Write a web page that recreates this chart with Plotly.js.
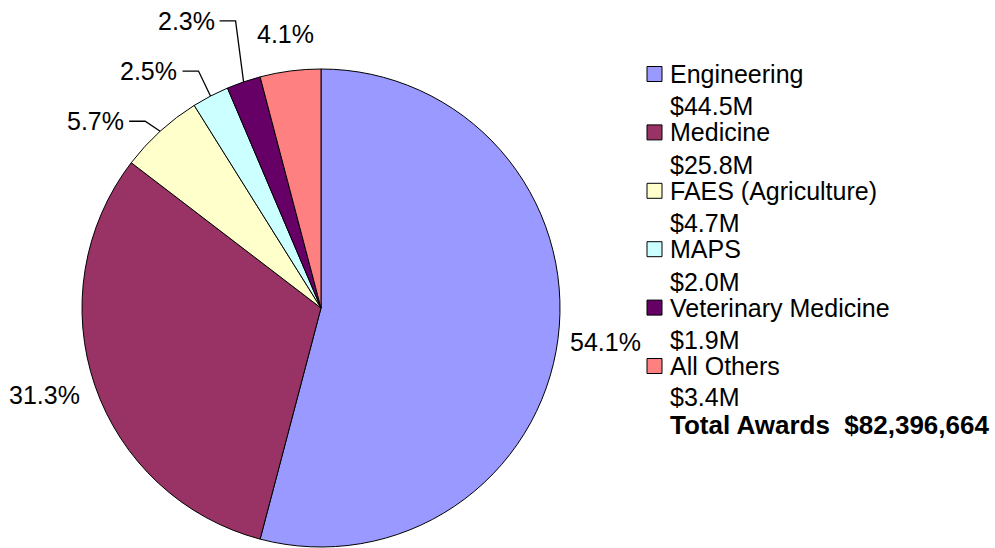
<!DOCTYPE html>
<html>
<head>
<meta charset="utf-8">
<script src="https://cdn.plot.ly/plotly-3.0.1.min.js"></script>
<style>html,body{margin:0;padding:0;background:#fff;}#chart{width:995px;height:548px;}</style>
</head>
<body>
<div id="chart"></div>
<script>
const categories = ["Engineering", "Medicine", "FAES (Agriculture)", "MAPS", "Veterinary Medicine", "All Others"];
const shares = [54.1, 31.3, 5.7, 2.5, 2.3, 4.1];
const amounts = ["$44.5M", "$25.8M", "$4.7M", "$2.0M", "$1.9M", "$3.4M"];
const colors = ["#9999FF", "#993366", "#FFFFCC", "#CCFFFF", "#660066", "#FF8080"];
const totalLabel = "Total Awards  $82,396,664";

const W = 995, H = 548;
const cx = 321, cy = 308, R = 239;
const font = "Arial, 'Liberation Sans', sans-serif";
const FS = 25;

const trace = {
  type: "pie",
  labels: categories,
  values: shares,
  sort: false,
  direction: "clockwise",
  rotation: 0,
  marker: {colors: colors, line: {color: "#000", width: 1}},
  textinfo: "none",
  showlegend: false,
  hoverinfo: "label+percent",
  domain: {x: [(cx - R) / W, (cx + R) / W], y: [(H - cy - R) / H, (H - cy + R) / H]}
};

const annotations = [];
const shapes = [];
const px = v => v / W, py = v => 1 - v / H;

// Percentage labels placed off each slice's mid-angle edge point (computed from the data)
// style: [mode, dx, dy]; mode "L" = left-anchored, "R" = right-anchored, "C" = centered, "leader" = elbow leader line
const labelStyle = [["L", 10, 3], ["R", -12.6, 10], ["leader", -15, -10], ["leader", -12, -25], ["leader", -8, -61], ["C", -4.5, -37]];
const total = shares.reduce((a, b) => a + b, 0);
let cum = 0;
shares.forEach((v, i) => {
  const mid = (cum + v / 2) / total * 2 * Math.PI;
  cum += v;
  const ex = cx + R * Math.sin(mid), ey = cy - R * Math.cos(mid);
  const [mode, dx, dy] = labelStyle[i];
  const txt = v.toFixed(1) + "%";
  const base = {xref: "paper", yref: "paper", showarrow: false, yanchor: "middle", text: txt,
    font: {family: font, size: FS, color: "#000"}};
  if (mode === "leader") {
    const bx = ex + dx, by = ey + dy, hx = bx - 16;
    shapes.push({type: "path", xref: "paper", yref: "paper",
      path: `M ${px(ex)} ${py(ey)} L ${px(bx)} ${py(by)} L ${px(hx)} ${py(by)}`,
      line: {color: "#000", width: 1.3}});
    annotations.push(Object.assign(base, {x: px(hx - 3), y: py(by), xanchor: "right"}));
  } else {
    annotations.push(Object.assign(base, {x: px(ex + dx), y: py(ey + dy),
      xanchor: mode === "L" ? "left" : mode === "R" ? "right" : "center"}));
  }
});

// Legend
categories.forEach((c, i) => {
  const yName = 74 + 58.4 * i;
  const yAmt = yName + 32.5;
  shapes.push({type: "rect", xref: "paper", yref: "paper",
    x0: px(647), x1: px(662), y0: py(yName - 7.5), y1: py(yName + 7.5),
    fillcolor: colors[i], line: {color: "#000", width: 1}});
  annotations.push({xref: "paper", yref: "paper", x: px(668), y: py(yName), xanchor: "left", yanchor: "middle",
    text: c, showarrow: false, font: {family: font, size: FS, color: "#000"}});
  annotations.push({xref: "paper", yref: "paper", x: px(668), y: py(i === 5 ? yAmt - 2 : yAmt), xanchor: "left", yanchor: "middle",
    text: amounts[i], showarrow: false, font: {family: font, size: FS, color: "#000"}});
});
annotations.push({xref: "paper", yref: "paper", x: px(668), y: py(425), xanchor: "left", yanchor: "middle",
  text: "<b>" + totalLabel.replace("  ", "&nbsp; ") + "</b>", showarrow: false, font: {family: font, size: 26, color: "#000"}});

const layout = {
  width: W, height: H,
  margin: {l: 0, r: 0, t: 0, b: 0},
  paper_bgcolor: "#fff",
  showlegend: false,
  annotations: annotations,
  shapes: shapes
};
Plotly.newPlot("chart", [trace], layout, {displayModeBar: false, staticPlot: true});
</script>
</body>
</html>
